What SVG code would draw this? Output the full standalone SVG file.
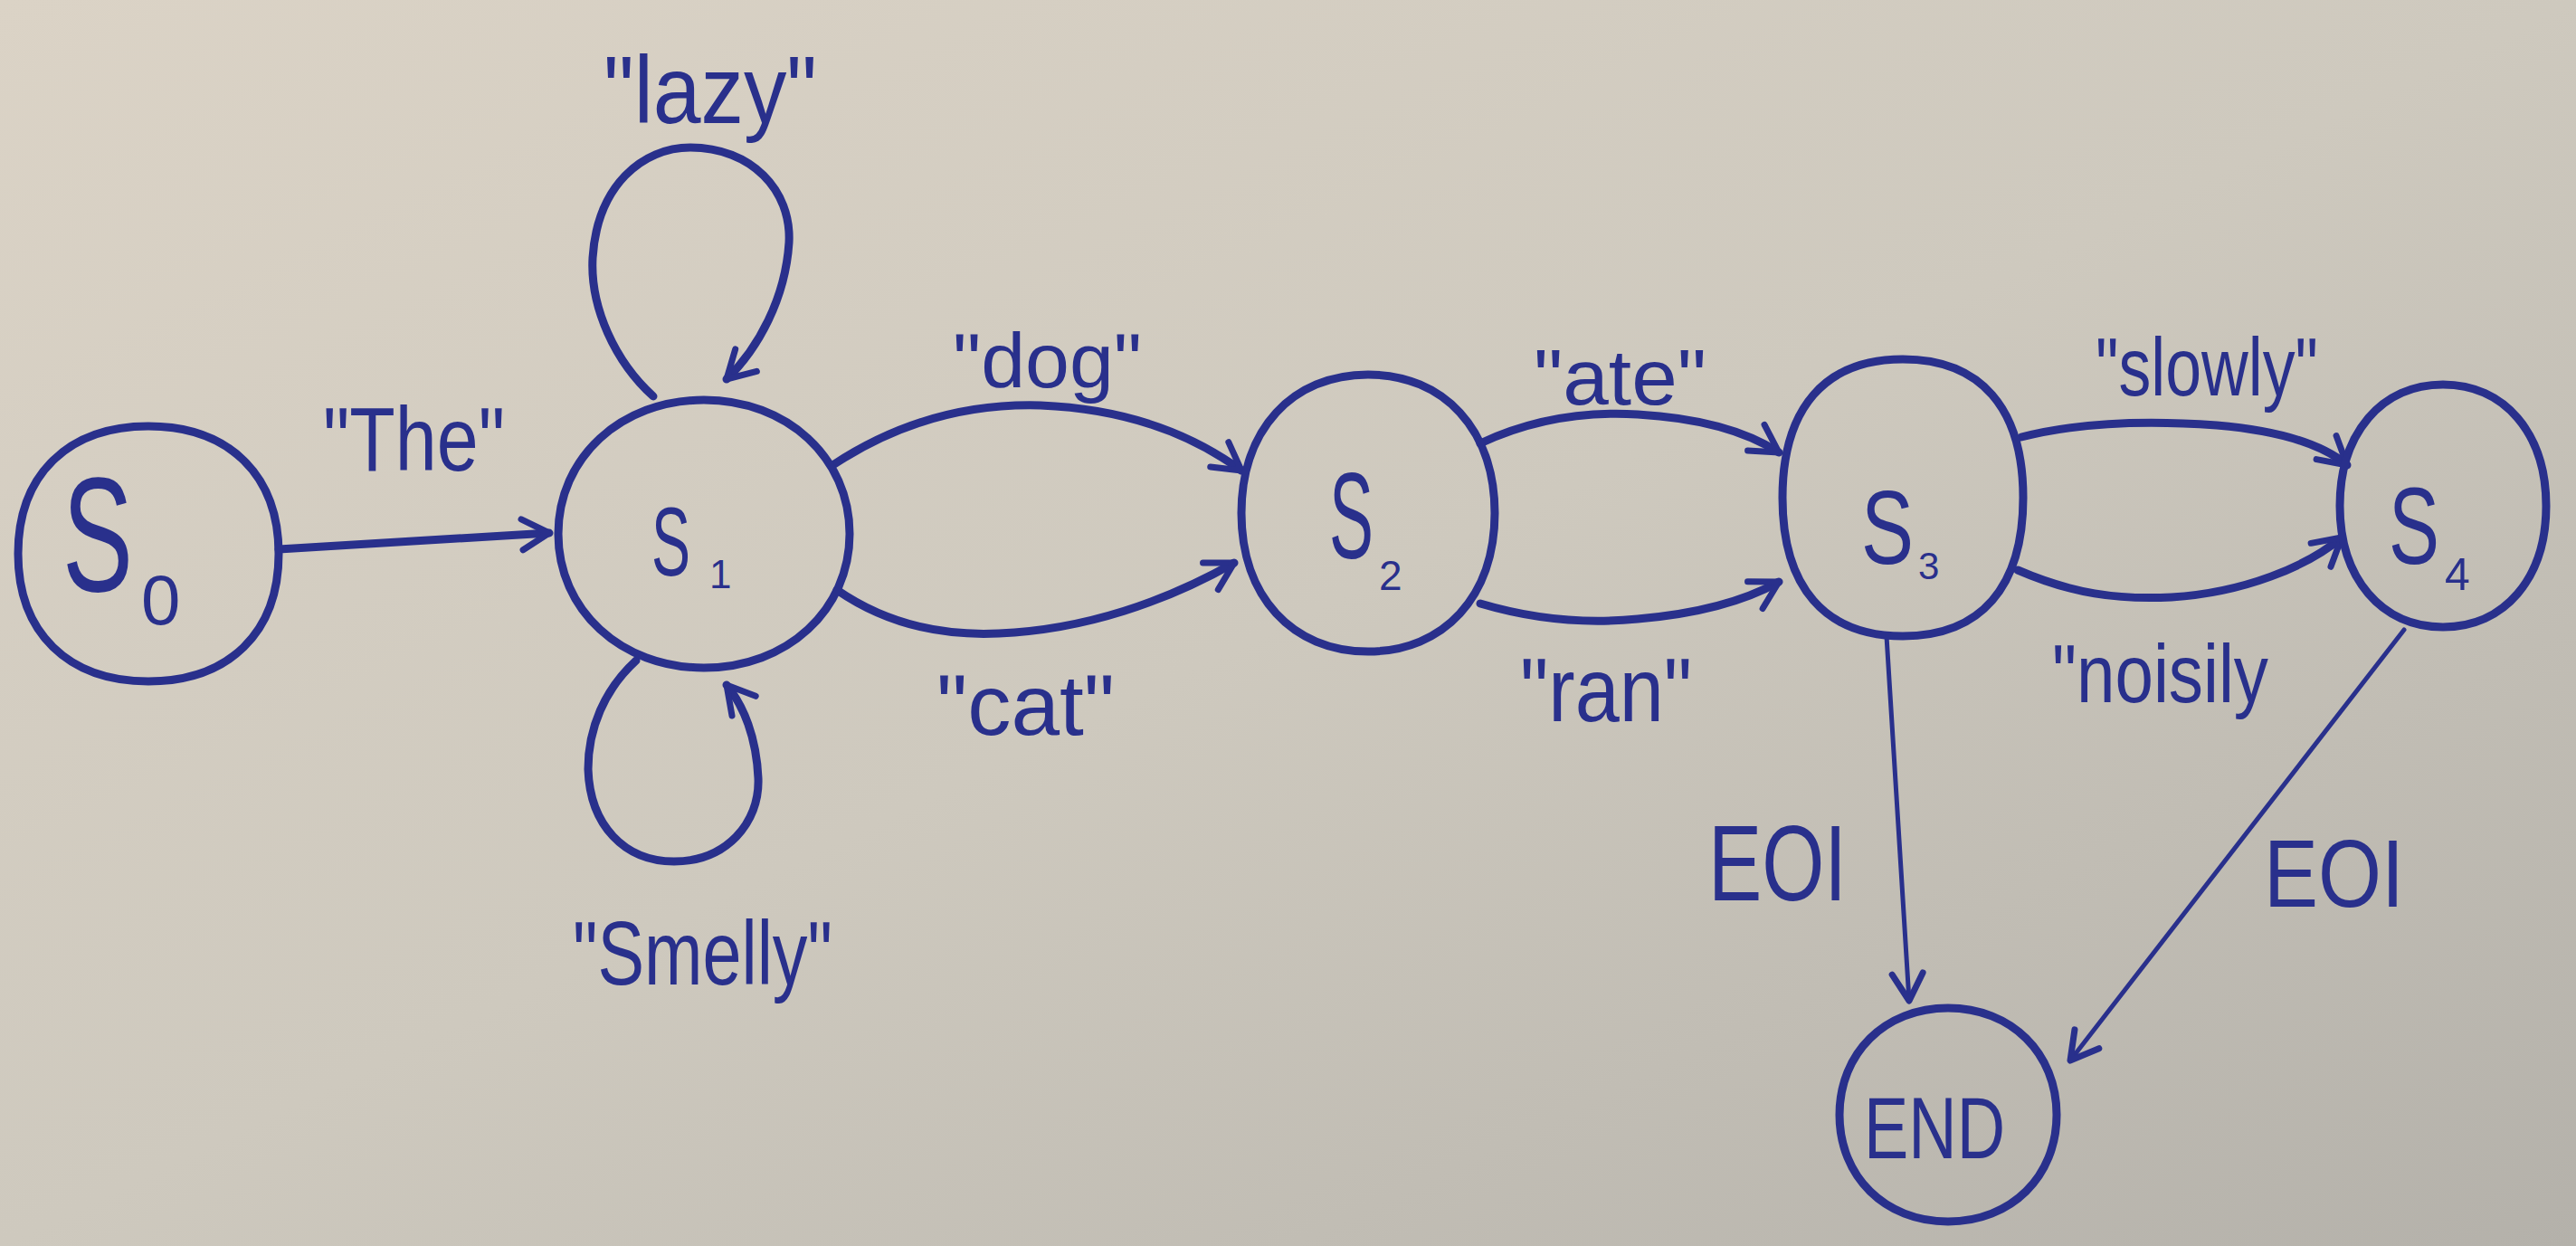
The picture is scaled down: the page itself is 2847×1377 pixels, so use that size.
<svg xmlns="http://www.w3.org/2000/svg" width="2847" height="1377" viewBox="0 0 2847 1377">
<defs>
<linearGradient id="paper" x1="0" y1="0" x2="1" y2="1">
<stop offset="0" stop-color="#dbd3c6"/>
<stop offset="0.5" stop-color="#cec9be"/>
<stop offset="1" stop-color="#b4b1aa"/>
</linearGradient>
<marker id="arrow" markerUnits="userSpaceOnUse" markerWidth="60" markerHeight="60" viewBox="-40 -30 50 60" refX="0" refY="0" orient="auto" overflow="visible">
<path d="M -30 -17 L 0 0 L -30 17" fill="none" stroke="#29308c" stroke-width="7" stroke-linecap="round" stroke-linejoin="round"/>
</marker>
<style>
.node{fill:none;stroke:#29308c;stroke-width:9}
.edge{fill:none;stroke:#29308c;stroke-width:9;stroke-linecap:round;marker-end:url(#arrow)}
.thin{stroke-width:5}
.lbl{font-family:"Liberation Sans","DejaVu Sans",sans-serif;fill:#29308c}
</style>
</defs>
<rect x="0" y="0" width="2847" height="1377" fill="url(#paper)"/>

<g id="connectors">
<path id="e-the" class="edge" d="M 308 607 L 607 589"/>
<path id="e-lazy" class="edge" d="M 722 438 C 680 400, 652 340, 655 285 C 660 205, 710 163, 763 163 C 830 163, 875 210, 872 268 C 868 330, 838 385, 803 419"/>
<path id="e-smelly" class="edge" d="M 703 730 C 668 762, 650 805, 650 850 C 652 912, 690 952, 745 952 C 802 952, 840 910, 838 860 C 836 815, 822 780, 803 757"/>
<path id="e-dog" class="edge" d="M 922 513 C 1000 462, 1080 446, 1150 448 C 1250 452, 1320 482, 1372 520"/>
<path id="e-cat" class="edge" d="M 925 652 C 980 690, 1040 703, 1104 700 C 1200 696, 1290 664, 1364 622"/>
<path id="e-ate" class="edge" d="M 1636 490 C 1700 460, 1760 455, 1810 458 C 1880 462, 1932 478, 1966 500"/>
<path id="e-ran" class="edge" d="M 1636 667 C 1700 686, 1760 689, 1810 684 C 1880 678, 1932 662, 1966 643"/>
<path id="e-slowly" class="edge" d="M 2234 483 C 2300 466, 2380 465, 2450 470 C 2520 476, 2568 492, 2594 514"/>
<path id="e-noisily" class="edge" d="M 2230 630 C 2290 656, 2340 663, 2400 660 C 2480 655, 2550 626, 2588 594"/>
<path id="e-eoi1" class="edge thin" d="M 2085 703 L 2110 1106"/>
<path id="e-eoi2" class="edge thin" d="M 2657 696 L 2288 1172"/>
<text class="lbl" x="357" y="520" font-size="100" textLength="201" lengthAdjust="spacingAndGlyphs">"The"</text>
<text class="lbl" x="667" y="136" font-size="105" textLength="236" lengthAdjust="spacingAndGlyphs">"lazy"</text>
<text class="lbl" x="633" y="1088" font-size="100" textLength="287" lengthAdjust="spacingAndGlyphs">"Smelly"</text>
<text class="lbl" x="1053" y="428" font-size="85" textLength="209" lengthAdjust="spacingAndGlyphs">"dog"</text>
<text class="lbl" x="1035" y="812" font-size="95" textLength="197" lengthAdjust="spacingAndGlyphs">"cat"</text>
<text class="lbl" x="1695" y="447" font-size="88" textLength="191" lengthAdjust="spacingAndGlyphs">"ate"</text>
<text class="lbl" x="1680" y="797" font-size="100" textLength="190" lengthAdjust="spacingAndGlyphs">"ran"</text>
<text class="lbl" x="2316" y="437" font-size="90" textLength="246" lengthAdjust="spacingAndGlyphs">"slowly"</text>
<text class="lbl" x="2268" y="776" font-size="90" textLength="239" lengthAdjust="spacingAndGlyphs">"noisily</text>
<text class="lbl" x="1888" y="995" font-size="118" textLength="153" lengthAdjust="spacingAndGlyphs">EOI</text>
<text class="lbl" x="2502" y="1002" font-size="106" textLength="155" lengthAdjust="spacingAndGlyphs">EOI</text>
</g>

<g id="node-s0">
<path class="node" d="M 20 612 C 20 525, 75 471, 164 471 C 253 471, 308 525, 308 612 C 308 699, 253 753, 164 753 C 75 753, 20 699, 20 612 Z"/>
<text class="lbl"><tspan x="69" y="653" font-size="180" textLength="78" lengthAdjust="spacingAndGlyphs">S</tspan><tspan x="156" y="690" font-size="78">0</tspan></text>
</g>

<g id="node-s1">
<path class="node" d="M 617 590 C 617 506, 686 442, 778 442 C 870 442, 939 506, 939 590 C 939 674, 870 738, 778 738 C 686 738, 617 674, 617 590 Z"/>
<text class="lbl"><tspan x="720" y="636" font-size="107" textLength="43" lengthAdjust="spacingAndGlyphs">S</tspan><tspan x="784" y="650" font-size="44">1</tspan></text>
</g>

<g id="node-s2">
<path class="node" d="M 1372 567 C 1372 475, 1428 414, 1512 414 C 1596 414, 1652 475, 1652 567 C 1652 659, 1596 720, 1512 720 C 1428 720, 1372 659, 1372 567 Z"/>
<text class="lbl"><tspan x="1469" y="617" font-size="135" textLength="49" lengthAdjust="spacingAndGlyphs">S</tspan><tspan x="1524" y="652" font-size="46">2</tspan></text>
</g>

<g id="node-s3">
<path class="node" d="M 1970 550 C 1970 451, 2017 397, 2103 397 C 2189 397, 2236 451, 2236 550 C 2236 649, 2189 703, 2103 703 C 2017 703, 1970 649, 1970 550 Z"/>
<text class="lbl"><tspan x="2057" y="623" font-size="115" textLength="58" lengthAdjust="spacingAndGlyphs">S</tspan><tspan x="2120" y="640" font-size="42">3</tspan></text>
</g>

<g id="node-s4">
<path class="node" d="M 2586 559 C 2586 479, 2632 425, 2700 425 C 2768 425, 2814 479, 2814 559 C 2814 639, 2768 693, 2700 693 C 2632 693, 2586 639, 2586 559 Z"/>
<text class="lbl"><tspan x="2640" y="623" font-size="120" textLength="56" lengthAdjust="spacingAndGlyphs">S</tspan><tspan x="2702" y="652" font-size="50">4</tspan></text>
</g>

<g id="node-end">
<path class="node" d="M 2033 1232 C 2033 1164, 2083 1114, 2153 1114 C 2223 1114, 2273 1164, 2273 1232 C 2273 1300, 2223 1350, 2153 1350 C 2083 1350, 2033 1300, 2033 1232 Z"/>
<text class="lbl" x="2060" y="1280" font-size="96" textLength="156" lengthAdjust="spacingAndGlyphs">END</text>
</g>
</svg>
